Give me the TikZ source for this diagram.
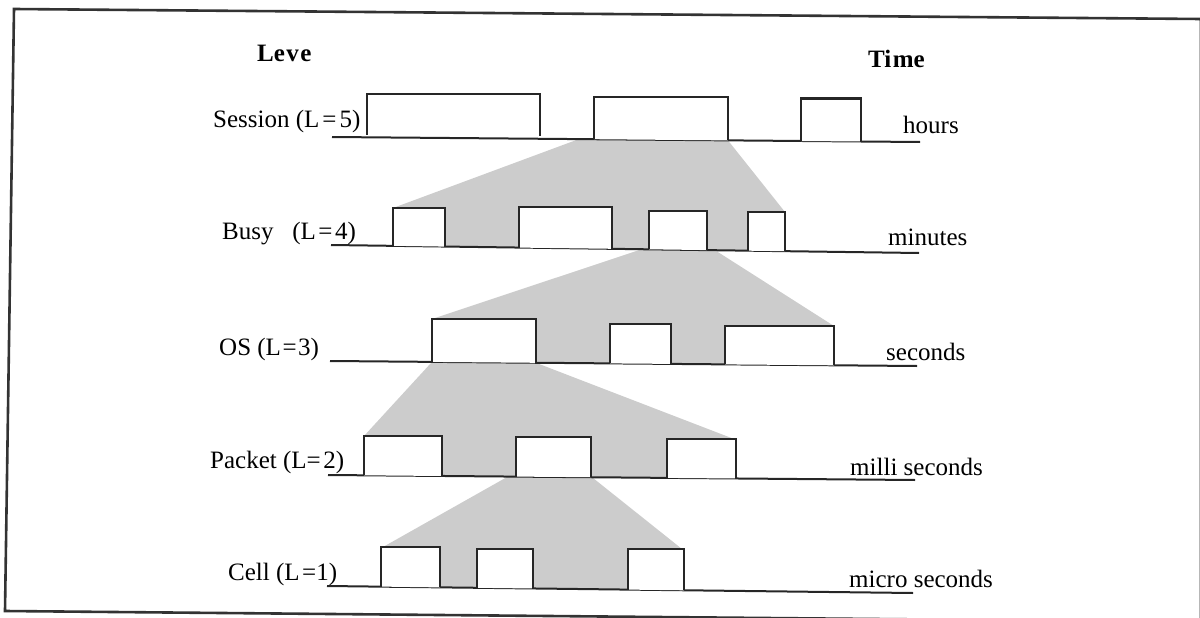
\documentclass[tikz,border=0pt]{standalone}
\usepackage{fontspec}
\setmainfont{Liberation Serif}
% \pulseshape{x left}{x right}{y top}{y bottom left}{y bottom right}
\newcommand\pulseshape[5]{\filldraw[pulsebox] (#1,#4) -- (#1,#3) -- (#2,#3) -- (#2,#5);}
\begin{document}
\begin{tikzpicture}[x=1pt,y=-1pt,
  lbl/.style={anchor=base west,inner sep=0pt,font=\fontsize{25}{30}\selectfont},
  hdr/.style={anchor=base west,inner sep=0pt,font=\fontsize{25}{30}\selectfont\bfseries},
  axisline/.style={line width=2pt,draw=black!85},
  pulsebox/.style={line width=2.2pt,draw=black!85,fill=white},
  shadearea/.style={fill=black!20},
  frameline/.style={line width=2.6pt,draw=black!80}]
\useasboundingbox (0,0) rectangle (1200,618);

% frame
\draw[frameline] (14,9) -- (1201,19) -- (1201,622) -- (5,611) -- cycle;

% grey zoom areas
\fill[shadearea] (578,139.4) -- (728,140.4) -- (785,212) -- (785,251.2) -- (393,245.8) -- (393,208) -- cycle;
\fill[shadearea] (640,249.8) -- (715,250.2) -- (834,326) -- (834,365.3) -- (432,361.9) -- (432,319) -- cycle;
\fill[shadearea] (432,361.9) -- (536,362.8) -- (734,439) -- (734,478.5) -- (364,475.3) -- (364,436) -- cycle;
\fill[shadearea] (508,476.5) -- (592,477.2) -- (682,549) -- (682,590.3) -- (383,586.6) -- (383,547) -- cycle;

% time axes
\coordinate (a5l) at (332,137); \coordinate (a5r) at (920,142);
\coordinate (a4l) at (331,245); \coordinate (a4r) at (919,253);
\coordinate (a3l) at (330,361); \coordinate (a3r) at (917,366);
\coordinate (a2l) at (328,475); \coordinate (a2r) at (915,480);
\coordinate (a1l) at (327,586); \coordinate (a1r) at (913,593);
\draw[axisline] (a5l) -- (a5r);
\draw[axisline] (a4l) -- (a4r);
\draw[axisline] (a3l) -- (a3r);
\draw[axisline] (a2l) -- (a2r);
\draw[axisline] (a1l) -- (a1r);

% Session (L=5)
\pulseshape{367}{540}{94}{134.5}{136}
\pulseshape{594}{728}{97}{139.2}{140.4}
\pulseshape{801}{861}{98.5}{141}{141.5}
% Busy (L=4)
\pulseshape{393}{445}{208}{245.8}{246.6}
\pulseshape{519}{612}{207}{247.6}{248.8}
\pulseshape{649}{707}{211}{249.3}{250.1}
\pulseshape{748}{785}{212}{250.7}{251.2}
% OS (L=3)
\pulseshape{432}{536}{319}{361.9}{362.8}
\pulseshape{610}{671}{324}{363.4}{363.9}
\pulseshape{725}{834}{326}{364.4}{365.3}
% Packet (L=2)
\pulseshape{364}{442}{436}{475.3}{476}
\pulseshape{516}{591}{437}{476.6}{477.2}
\pulseshape{667}{736}{439}{477.9}{478.5}
% Cell (L=1)
\pulseshape{381}{440}{547}{586.6}{587.4}
\pulseshape{477}{533}{549}{587.8}{588.5}
\pulseshape{628}{684}{549}{589.6}{590.3}

% headers
\node[hdr] (leve) at (257,62) {Le\kern1.5pt v\kern1.5pt e};
\node[hdr] (time) at (868,68) {Ti\kern1.5pt me};

% level labels
\node[lbl] (l5) at (213,127) {Session (L\kern3pt=\kern3pt5)};
\node[lbl] (l4) at (222,239) {Busy\ \ \ (L\kern2.5pt=\kern2.5pt4)};
\node[lbl] (l3) at (219,355) {OS (L\kern1.5pt=\kern1.5pt3)};
\node[lbl] (l2) at (210,468) {Packet (L=\kern2.5pt2)};
\node[lbl] (l1) at (228,580) {Cell (L\kern2.5pt=1)};

% time scale labels
\node[lbl] (t5) at (903,133) {hours};
\node[lbl] (t4) at (888,245) {minutes};
\node[lbl] (t3) at (886,360) {seconds};
\node[lbl] (t2) at (850,475) {milli seconds};
\node[lbl] (t1) at (849,587) {micro seconds};
\end{tikzpicture}
\end{document}
